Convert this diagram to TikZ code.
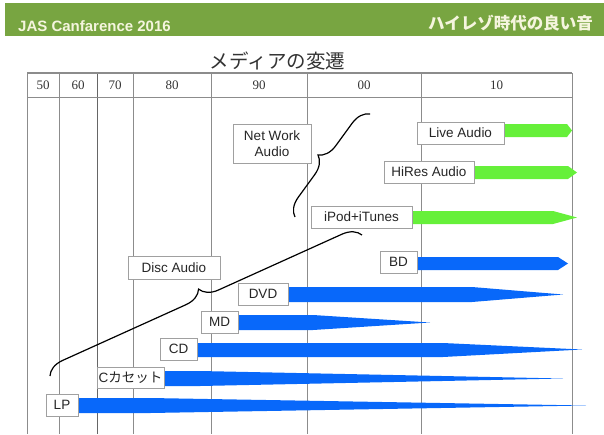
\documentclass[tikz,border=0pt]{standalone}
\usepackage{fontspec}
\setmainfont{Liberation Sans}
\newfontfamily\serifnum{Liberation Serif}
\newfontfamily\cjk{Noto Sans CJK JP}
\usetikzlibrary{decorations.pathreplacing}
\definecolor{hdrgreen}{RGB}{120,165,65}
\definecolor{cream}{RGB}{245,245,222}
\definecolor{bargreen}{RGB}{102,240,58}
\definecolor{barblue}{RGB}{8,104,250}
\definecolor{gridgray}{RGB}{140,140,140}
\definecolor{boxgray}{RGB}{160,160,160}
\begin{document}
\begin{tikzpicture}[x=1pt,y=-1pt,
  lbl/.style={draw=boxgray, line width=0.8pt, fill=white, font=\fontsize{13.5}{16.5}\selectfont, text=black!85, inner sep=0pt, minimum height=22pt},
  gridline/.style={gridgray, line width=0.8pt},
  yearlbl/.style={font=\serifnum\fontsize{13}{15}\selectfont, text=black!80},
  bracestyle/.style={decorate, decoration={brace, amplitude=18pt}, line width=1.2pt, black},
  greenbar/.style={fill=bargreen},
  bluebar/.style={fill=barblue}
]
\useasboundingbox (0,0) rectangle (604,434);
% header band
\fill[hdrgreen] (5,3) rectangle (604,36);
\node[anchor=base west, inner sep=0pt, text=cream, font=\bfseries\fontsize{15}{18}\selectfont] (conf) at (18,31.7) {JAS Canfarence 2016};
\node[anchor=east, inner sep=0pt, text=cream, font=\cjk\bfseries\fontsize{16.5}{18}\selectfont] (subt) at (593,23.5) {ハイレゾ時代の良い音};
% title
\node[inner sep=0pt, text=black!80, font=\cjk\fontsize{19.5}{22}\selectfont] (title) at (277.5,61) {メディアの変遷};
% table
\foreach \x in {27,59,133,211,307,421,572} {\draw[gridline] (\x,73) -- (\x,434);}
\draw[black!60, line width=1pt] (97,73) -- (97,434);
\draw[gridline, line width=1.2pt] (27,73) -- (572,73);
\draw[gridline] (27,97) -- (572,97);
\node[yearlbl] (y50) at (43,85) {50};
\node[yearlbl] (y60) at (78,85) {60};
\node[yearlbl] (y70) at (115,85) {70};
\node[yearlbl] (y80) at (172,85) {80};
\node[yearlbl] (y90) at (259,85) {90};
\node[yearlbl] (y00) at (364,85) {00};
\node[yearlbl] (y10) at (496.5,85) {10};
% bars
\fill[greenbar] (503,124) -- (567,124) -- (572,130.5) -- (567,137) -- (503,137) -- cycle;
\fill[greenbar] (473,166) -- (568,166) -- (577,172.5) -- (568,179) -- (473,179) -- cycle;
\fill[greenbar] (411,211) -- (553,211) -- (577,217.5) -- (553,224) -- (411,224) -- cycle;
\fill[bluebar] (416,257) -- (558,257) -- (568,263.5) -- (558,270) -- (416,270) -- cycle;
\fill[bluebar] (287,287) -- (472,287) -- (563,294.5) -- (472,302) -- (287,302) -- cycle;
\fill[bluebar] (237,315) -- (313,315) -- (430,322.5) -- (313,330) -- (237,330) -- cycle;
\fill[bluebar] (196,343) -- (443,343) -- (582,349.5) -- (443,357) -- (196,357) -- cycle;
\fill[bluebar] (163,371) -- (200,371) -- (563,378.5) -- (200,386) -- (163,386) -- cycle;
\fill[bluebar] (77,398) -- (150,398) -- (586,405.5) -- (150,413) -- (77,413) -- cycle;
% braces
\draw[bracestyle] (295,217) -- (370,114);
\draw[bracestyle] (50,376) -- (362,235);
% labels
\node[lbl, minimum width=78pt, minimum height=39pt, align=center] (netwk) at (272,143.5) {Net Work\\Audio};
\node[lbl, minimum width=87pt] (live) at (460.5,133) {Live Audio};
\node[lbl, minimum width=90pt] (hires) at (429,172) {HiRes Audio};
\node[lbl, minimum width=101pt] (ipod) at (361.5,217) {iPod+iTunes};
\node[lbl, minimum width=37pt] (bd) at (398.5,262) {BD};
\node[lbl, minimum width=92pt, minimum height=23pt] (disc) at (174,267.5) {Disc Audio};
\node[lbl, minimum width=50pt] (dvd) at (263,294) {DVD};
\node[lbl, minimum width=37pt] (md) at (219.5,322) {MD};
\node[lbl, minimum width=37pt] (cd) at (178.5,349) {CD};
\node[lbl, minimum width=67pt, minimum height=21pt] (cas) at (130.5,377.5) {C{\cjk カセット}};
\node[lbl, minimum width=32pt] (lp) at (62,405) {LP};
\end{tikzpicture}
\end{document}
